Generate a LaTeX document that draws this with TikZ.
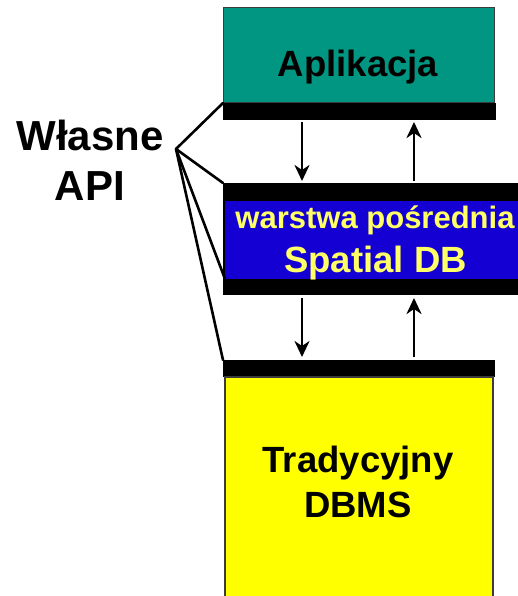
\documentclass[tikz,border=0pt]{standalone}
\usepackage{fontspec}
\setmainfont{Liberation Sans}
\usetikzlibrary{arrows.meta}

\definecolor{appteal}{RGB}{0,150,130}
\definecolor{midblue}{RGB}{20,0,210}
\definecolor{lightyellow}{RGB}{255,255,102}
\definecolor{dbyellow}{RGB}{255,255,0}
\definecolor{edgegray}{RGB}{60,60,60}

\tikzset{
  box/.style={rectangle, inner sep=0pt, outer sep=0pt, anchor=north west},
  bar/.style={box, fill=black},
  conn/.style={line width=2.6pt, line cap=round},
  arr/.style={line width=2.6pt, -{Stealth[length=16pt,width=15pt,inset=5pt]}},
  bigtxt/.style={font=\bfseries\fontsize{36.5}{40}\selectfont, anchor=base, inner sep=0pt},
  midtxt/.style={font=\bfseries\fontsize{31}{34}\selectfont, anchor=base, inner sep=0pt, text=lightyellow},
  apitxt/.style={font=\bfseries\fontsize{42}{46}\selectfont, anchor=base, inner sep=0pt},
}

\begin{document}
\begin{tikzpicture}[x=1pt, y=-1pt]
  \clip (0,0) rectangle (518,596);
  \fill[white] (0,0) rectangle (518,596);

  % application layer
  \node[box, fill=appteal, draw=edgegray, line width=1pt,
        minimum width=271pt, minimum height=95pt] (app) at (223,8) {};
  \node[bar, minimum width=273pt, minimum height=17pt] (appbar) at (223,103) {};
  \node[bigtxt] (applbl) at (358,77) {Aplikacja};

  % middleware layer
  \node[bar, minimum width=320pt, minimum height=112pt] (mid) at (223,183) {};
  \node[box, fill=midblue, minimum width=320pt, minimum height=78pt] (midin) at (225,201) {};
  \node[midtxt] (midlbl1) at (375,228) {warstwa pośrednia};
  \node[midtxt, font=\bfseries\fontsize{36.5}{40}\selectfont] (midlbl2) at (375.5,272) {Spatial DB};

  % traditional DBMS
  \node[bar, minimum width=272pt, minimum height=17pt] (dbbar) at (223,360) {};
  \node[box, fill=dbyellow, draw=edgegray, line width=1.4pt,
        minimum width=268pt, minimum height=240pt] (db) at (225,377) {};
  \node[bigtxt] (dblbl1) at (358,472) {Tradycyjny};
  \node[bigtxt] (dblbl2) at (358,517) {DBMS};

  % own API label and its connectors
  \node[apitxt] (api1) at (90,150) {Własne};
  \node[apitxt] (api2) at (90,200) {API};
  \coordinate (apipt) at (176,149);
  \draw[conn] (apipt) -- (app.south west);
  \draw[conn] (apipt) -- (mid.north west);
  \draw[conn] (apipt) -- (midin.south west);
  \draw[conn] (apipt) -- (dbbar.north west);

  % data flow between layers
  \coordinate (colL) at (302,0);
  \coordinate (colR) at (414,0);
  \draw[arr, shorten <=2pt, shorten >=2pt] (appbar.south -| colL) -- (mid.north -| colL);
  \draw[arr, shorten <=2pt, shorten >=2pt] (mid.north -| colR) -- (appbar.south -| colR);
  \draw[arr, shorten <=3pt, shorten >=3pt] (mid.south -| colL) -- (dbbar.north -| colL);
  \draw[arr, shorten <=3pt, shorten >=3pt] (dbbar.north -| colR) -- (mid.south -| colR);
\end{tikzpicture}
\end{document}
